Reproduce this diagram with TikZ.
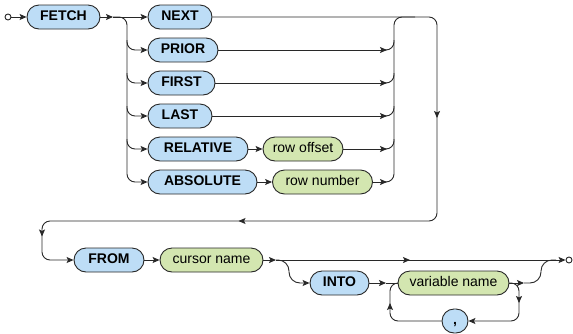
\documentclass[tikz,border=0pt]{standalone}
\usepackage{fontspec}
\setmainfont{Liberation Sans}
\usetikzlibrary{arrows.meta,calc}
\definecolor{kwblue}{RGB}{189,221,246}
\definecolor{idgreen}{RGB}{211,230,176}
\definecolor{edge}{RGB}{40,40,40}
\tikzset{
  box/.style={draw=edge, line width=0.9pt, rounded corners=12pt, minimum height=24pt,
    inner sep=0pt, text height=10pt, text depth=2.8pt},
  kw/.style={box, fill=kwblue, font=\fontsize{14}{16}\selectfont\bfseries},
  ident/.style={box, fill=idgreen, font=\fontsize{14}{16}\selectfont},
  rail/.style={line width=0.9pt, draw=edge, rounded corners=8pt},
  tip/.style={-{Stealth[length=7pt,width=6pt,inset=1.5pt]}},
  midtip/.style={draw=edge, line width=0.9pt, tip},
  term/.style={circle, draw=edge, line width=0.9pt, fill=white, inner sep=0pt, minimum size=6pt},
}
\begin{document}
\begin{tikzpicture}[x=1pt,y=-1pt]
\useasboundingbox (0,0) rectangle (573,333);
% first part nodes
\node[term] (s) at (8,17) {};
\node[kw, minimum width=73pt] (FETCH) at (63.5,17) {FETCH};
\node[kw, minimum width=64pt] (NEXT) at (180,17) {NEXT};
\node[kw, minimum width=70pt] (PRIOR) at (183,50) {PRIOR};
\node[kw, minimum width=67pt] (FIRST) at (181.5,83) {FIRST};
\node[kw, minimum width=64pt] (LAST) at (180,116) {LAST};
\node[kw, minimum width=100pt] (RELATIVE) at (198,149) {RELATIVE};
\node[ident, minimum width=80pt] (ro) at (303,149) {row offset};
\node[kw, minimum width=109pt] (ABSOLUTE) at (202.5,182) {ABSOLUTE};
\node[ident, minimum width=100pt] (rn) at (322.5,182) {row number};
% second part nodes
\node[kw, minimum width=70pt] (FROM) at (109,260) {FROM};
\node[ident, minimum width=103pt] (cn) at (211.5,260) {cursor name};
\node[kw, minimum width=59pt] (INTO) at (339.5,283) {INTO};
\node[ident, minimum width=111pt] (var) at (453.5,283) {variable name};
\node[kw, minimum width=26pt] (comma) at (455,321) {,};
\node[term] (e) at (569,260) {};
% coordinates
\coordinate (b1) at (113,17);
\coordinate (vL) at (127,17);
\coordinate (vR) at (394,17);
\coordinate (jn) at (415,17);
\coordinate (c1) at (437,17);
\coordinate (c2) at (437,221);
\coordinate (c3) at (42,221);
\coordinate (c4) at (42,260);
\coordinate (b2) at (276,260);
\coordinate (v2) at (289,283);
\coordinate (a3) at (386,283);
\coordinate (a4) at (524,283);
\coordinate (v3) at (541,260);
\coordinate (j2) at (556,260);
\coordinate (lr) at (519,321);
\coordinate (lx) at (390,283);
% first part rails
\draw[rail,tip] (s) -- (FETCH.west);
\draw[rail,tip] (FETCH.east) -- (b1);
\draw[rail,tip] (b1) -- (NEXT.west);
\draw[rail,tip] (b1) -| (vL |- ABSOLUTE.west) -- (ABSOLUTE.west);
\foreach \n in {PRIOR,FIRST,LAST,RELATIVE}{
  \draw[rail,tip] ($(vL |- \n.west)+(0,-10)$) -- (vL |- \n.west) -- (\n.west);
}
\draw[rail,tip] (RELATIVE.east) -- (ro.west);
\draw[rail,tip] (ABSOLUTE.east) -- (rn.west);
\foreach \n in {PRIOR,FIRST,LAST,ro,rn}{
  \draw[rail,tip] (\n.east) -- ($(vR |- \n.east)+(-7,0)$);
}
\draw[rail] ($(vR |- rn.east)+(-10,0)$) -- (vR |- rn.east) |- (jn);
\foreach \n in {PRIOR,FIRST,LAST,ro}{
  \draw[rail] ($(vR |- \n.east)+(-10,0)$) -- (vR |- \n.east) -- ++(0,-10);
}
\draw[rail,tip] (NEXT.east) -- (c1) -- (c2) -- (c3) -- (c4) -- (FROM.west);
\draw[midtip] ($(c1)!0.5!(c2)+(0,-4)$) -- ++(0,3);
\draw[midtip] ($(c2)!0.5!(c3)+(2,0)$) -- ++(-3,0);
\draw[midtip] ($(c3)!0.5!(c4)+(0,-7)$) -- ++(0,3);
% second part rails
\draw[rail,tip] (FROM.east) -- (cn.west);
\draw[rail,tip] (cn.east) -- (b2);
\draw[rail,tip] (b2) -- (e);
\draw[midtip] (405,260) -- (410,260);
\draw[rail,tip,rounded corners=11pt] (b2) -| (v2) -- (INTO.west);
\draw[rail,tip] (INTO.east) -- (a3);
\draw[rail] (a3) -- (var.west);
\draw[rail,tip] (var.east) -- (a4);
\draw[rail,rounded corners=11pt] (a4) -| (v3) -- (j2);
\draw[rail,tip] (var.east) -| (lr) -- (comma.east);
\draw[rail] (comma.west) -| (lx) -- (var.west);
\draw[midtip] (519,298) -- (519,303);
\draw[midtip] (390,308) -- (390,303);
\end{tikzpicture}
\end{document}
